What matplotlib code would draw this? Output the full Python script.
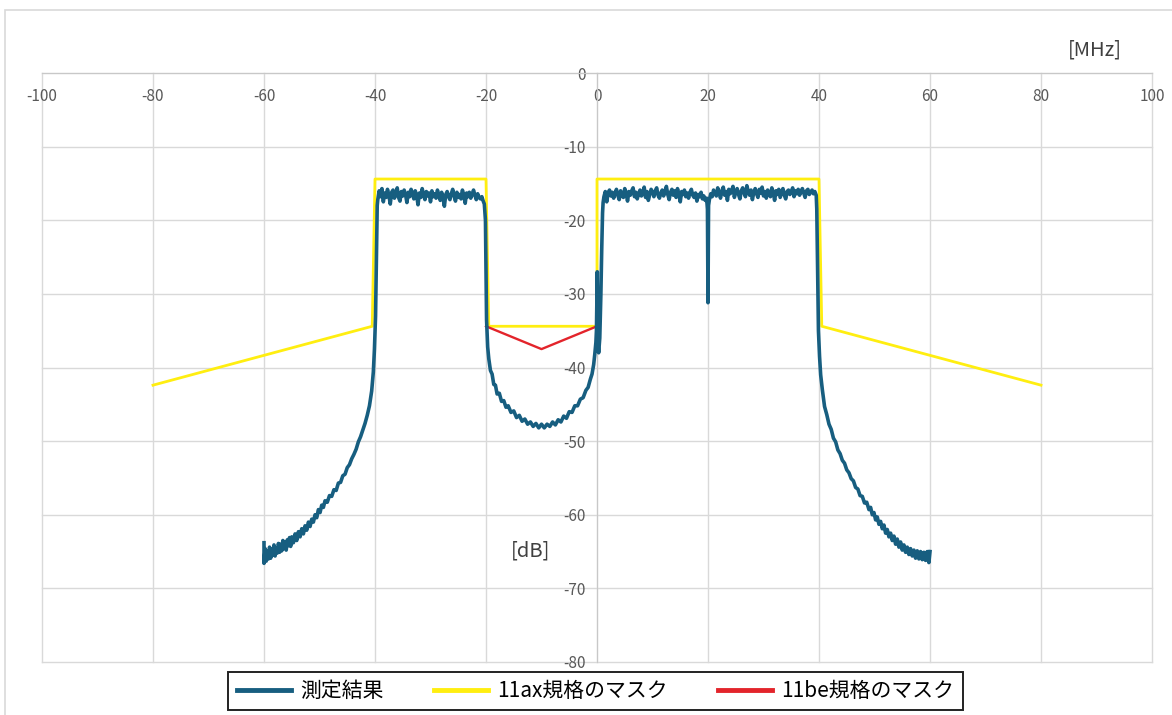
import matplotlib
matplotlib.use('Agg')
import matplotlib.pyplot as plt
from matplotlib.patches import Rectangle
import numpy as np

plt.rcParams['font.family'] = ['Noto Sans CJK JP', 'DejaVu Sans']
plt.rcParams['axes.unicode_minus'] = False

# ---- data (MHz, dB) ----
x_ticks = [-100, -80, -60, -40, -20, 0, 20, 40, 60, 80, 100]
y_ticks = [0, -10, -20, -30, -40, -50, -60, -70, -80]

labels = ['測定結果', '11ax規格のマスク', '11be規格のマスク']

# 11ax mask
ax_mask_f = [-80, -40.5, -40, -20, -19.5, 0, 0, 40, 40.5, 80]
ax_mask_db = [-42.4, -34.4, -14.4, -14.4, -34.4, -34.4, -14.4, -14.4, -34.4, -42.4]

# 11be mask (punctured part)
be_mask_f = [-20, -10, 0]
be_mask_db = [-34.4, -37.5, -34.4]

# measured: lower skirt of left channel (freq, level)
skirt_l = [(-60.0, -63.8), (-60.0, -66.6), (-59.8, -64.6), (-59.6, -66.3), (-59.4, -64.9),
           (-59.2, -66.0), (-59.0, -64.4), (-58.8, -65.9), (-58.6, -64.7), (-58.4, -65.5),
           (-58.2, -64.1), (-58.0, -65.6), (-57.8, -64.5), (-57.6, -65.2), (-57.4, -63.9),
           (-57.2, -65.1), (-57.0, -64.0), (-56.8, -64.9), (-56.6, -63.5), (-56.4, -64.6),
           (-56.2, -63.7), (-56.0, -64.8), (-55.8, -63.4), (-55.6, -64.2), (-55.4, -63.1),
           (-55.2, -64.3), (-55.0, -63.0), (-54.7, -63.8), (-54.4, -62.6), (-54.1, -63.5),
           (-53.8, -62.3), (-53.5, -63.0), (-53.2, -61.9), (-52.9, -62.6), (-52.6, -61.5),
           (-52.3, -62.1), (-52.0, -61.0), (-51.7, -61.6), (-51.4, -60.6), (-51.1, -61.0),
           (-50.8, -60.0), (-50.5, -60.4), (-50.2, -59.3), (-49.9, -59.7), (-49.6, -58.7),
           (-49.3, -59.0), (-49.0, -58.1), (-48.6, -58.3), (-48.2, -57.4), (-47.8, -57.5),
           (-47.4, -56.6), (-47.0, -56.7), (-46.6, -55.7), (-46.2, -55.6), (-45.8, -54.7),
           (-45.4, -54.5), (-45.0, -53.6), (-44.6, -53.2), (-44.2, -52.4), (-43.8, -51.8),
           (-43.4, -51.1), (-43.0, -50.1), (-42.6, -49.4), (-42.2, -48.5), (-41.8, -47.6),
           (-41.4, -46.5), (-41.0, -45.2), (-40.6, -43.2), (-40.3, -40.6), (-40.1, -37.5),
           (-39.9, -33.0), (-39.8, -28.0), (-39.7, -22.0), (-39.6, -18.0)]

# left channel in-band, -39.5 .. -20.5 MHz every 0.25 MHz
band_l_db = [-17.2, -16.0, -16.8, -15.7, -17.5, -16.3, -16.9, -15.8, -16.6, -17.8,
             -16.2, -15.9, -17.0, -16.4, -15.6, -16.9, -17.4, -16.1, -16.7, -15.9,
             -16.5, -17.6, -16.2, -16.8, -15.8, -16.4, -17.1, -16.0, -16.6, -17.9,
             -16.3, -16.9, -15.7, -16.5, -17.2, -16.1, -16.7, -16.3, -17.5, -16.0,
             -16.8, -16.4, -17.0, -15.9, -16.6, -17.3, -16.2, -16.9, -18.1, -16.5,
             -16.1, -16.8, -17.2, -16.4, -15.8, -16.7, -17.4, -16.2, -16.9, -16.5,
             -17.1, -15.9, -16.6, -17.7, -16.3, -16.8, -16.2, -17.0, -16.5, -15.9,
             -16.6, -17.2, -16.4, -16.9, -17.1, -16.8, -17.4]

# punctured 20 MHz between the channels (freq, level)
gap = [(-20.3, -17.8), (-20.1, -20.0), (-20.0, -27.0), (-19.9, -33.5), (-19.7, -37.2),
       (-19.5, -38.8), (-19.2, -40.4), (-18.9, -40.9), (-18.6, -42.3), (-18.3, -42.4),
       (-18.0, -43.6), (-17.6, -43.5), (-17.2, -44.6), (-16.8, -44.5), (-16.4, -45.4),
       (-16.0, -45.2), (-15.5, -46.1), (-15.0, -45.9), (-14.5, -46.8), (-14.0, -46.5),
       (-13.5, -47.3), (-13.0, -47.0), (-12.5, -47.7), (-12.0, -47.4), (-11.5, -48.0),
       (-11.0, -47.6), (-10.5, -48.2), (-10.0, -47.7), (-9.5, -48.2), (-9.0, -47.7),
       (-8.5, -48.0), (-8.0, -47.4), (-7.5, -47.8), (-7.0, -47.1), (-6.5, -47.4),
       (-6.0, -46.6), (-5.5, -46.9), (-5.0, -46.0), (-4.5, -46.1), (-4.0, -45.2),
       (-3.5, -45.2), (-3.0, -44.3), (-2.5, -44.1), (-2.0, -43.1), (-1.6, -42.7),
       (-1.2, -41.6), (-0.9, -40.9), (-0.6, -39.6), (-0.4, -38.2), (-0.2, -36.6),
       (-0.1, -35.0), (0.05, -27.0), (0.15, -36.5), (0.3, -38.0), (0.5, -36.0),
       (0.7, -30.0), (0.85, -24.0), (1.0, -19.0), (1.1, -17.6)]

# right channel in-band, 1.25 .. 19.75 MHz every 0.25 MHz
band_r1_db = [-16.8, -16.1, -17.5, -16.3, -15.9, -16.7, -16.2, -17.0, -16.4, -15.8,
              -16.6, -17.2, -16.0, -16.5, -16.9, -15.7, -16.3, -17.4, -16.1, -16.6,
              -16.0, -15.6, -16.8, -16.2, -17.1, -16.4, -15.9, -16.7, -16.3, -15.5,
              -16.9, -16.1, -17.3, -16.5, -15.8, -16.2, -16.8, -16.0, -15.6, -16.6,
              -17.0, -16.3, -15.9, -16.7, -16.1, -15.4, -16.5, -17.2, -16.2, -15.8,
              -16.6, -16.0, -16.9, -15.7, -16.4, -17.5, -16.1, -16.5, -15.9, -16.8,
              -16.3, -17.0, -16.2, -15.8, -16.6, -16.9, -16.3, -17.4, -16.5, -16.8,
              -16.2, -17.1, -16.7, -17.3, -17.0]

# notch at 20 MHz
notch = [(19.9, -18.5), (20.0, -31.2), (20.1, -18.0)]

# right channel in-band, 20.25 .. 39.5 MHz every 0.25 MHz
band_r2_db = [-17.2, -16.4, -16.8, -15.9, -16.3, -16.7, -15.6, -16.2, -17.0, -16.0,
              -15.5, -16.6, -16.1, -17.3, -15.8, -16.4, -16.0, -15.4, -16.9, -16.2,
              -15.7, -16.5, -17.1, -16.0, -15.6, -16.3, -16.8, -15.3, -16.1, -16.6,
              -15.9, -17.2, -16.2, -15.7, -16.4, -16.9, -15.8, -16.3, -15.5, -16.7,
              -16.1, -17.0, -15.9, -16.4, -16.8, -15.6, -16.2, -17.3, -16.0, -16.5,
              -15.8, -16.9, -16.3, -15.7, -16.6, -17.1, -16.1, -15.9, -16.5, -16.2,
              -15.6, -16.8, -16.0, -16.4, -15.8, -16.6, -16.1, -15.7, -16.3, -16.9,
              -16.0, -15.8, -16.5, -16.2, -15.9, -16.4, -16.1, -16.6]

# lower skirt of right channel (freq, level)
skirt_r = [(39.6, -18.5), (39.7, -24.0), (39.8, -30.0), (39.9, -35.0), (40.1, -38.5),
           (40.3, -41.0), (40.6, -43.0), (41.0, -45.3), (41.4, -46.4), (41.8, -47.7),
           (42.2, -48.4), (42.6, -49.6), (43.0, -50.1), (43.4, -51.2), (43.8, -51.7),
           (44.2, -52.6), (44.6, -53.0), (45.0, -53.9), (45.4, -54.3), (45.8, -55.1),
           (46.2, -55.4), (46.6, -56.3), (47.0, -56.5), (47.4, -57.4), (47.8, -57.5),
           (48.2, -58.4), (48.6, -58.3), (49.0, -59.3), (49.3, -59.0), (49.6, -60.0),
           (49.9, -59.7), (50.2, -60.7), (50.5, -60.3), (50.8, -61.3), (51.1, -60.9),
           (51.4, -61.9), (51.7, -61.4), (52.0, -62.5), (52.3, -62.0), (52.6, -63.0),
           (52.9, -62.5), (53.2, -63.5), (53.5, -62.9), (53.8, -64.0), (54.1, -63.3),
           (54.4, -64.4), (54.7, -63.7), (55.0, -64.8), (55.3, -64.1), (55.6, -65.1),
           (55.9, -64.4), (56.2, -65.4), (56.5, -64.6), (56.8, -65.6), (57.1, -64.8),
           (57.4, -65.9), (57.7, -64.9), (58.0, -66.0), (58.3, -65.0), (58.6, -66.1),
           (58.9, -65.1), (59.2, -66.2), (59.5, -65.0), (59.8, -66.5), (60.0, -65.0)]


def unzip(pairs):
    return [p[0] for p in pairs], [p[1] for p in pairs]


def main():
    band_l_f = np.arange(len(band_l_db)) * 0.25 - 39.5
    band_r1_f = np.arange(len(band_r1_db)) * 0.25 + 1.25
    band_r2_f = np.arange(len(band_r2_db)) * 0.25 + 20.25

    sl_f, sl_db = unzip(skirt_l)
    g_f, g_db = unzip(gap)
    n_f, n_db = unzip(notch)
    sr_f, sr_db = unzip(skirt_r)

    meas_f = np.concatenate([sl_f, band_l_f, g_f, band_r1_f, n_f, band_r2_f, sr_f])
    meas_db = np.concatenate([sl_db, band_l_db, g_db, band_r1_db, n_db, band_r2_db, sr_db])

    fig = plt.figure(figsize=(11.72, 7.15), dpi=100)
    W, H = 1172, 715
    ax = fig.add_axes([42 / W, 1 - 662 / H, 1110 / W, 589 / H])

    # outer chart frame
    fig.add_artist(Rectangle((5 / W, -0.1), 1.2, 1.1 - 10 / H, transform=fig.transFigure,
                             fill=False, edgecolor='#D9D9D9', lw=1.2))

    l1, = ax.plot(meas_f, meas_db, color='#175E80', lw=2.6, zorder=4, label=labels[0])
    l2, = ax.plot(ax_mask_f, ax_mask_db, color='#FFEE10', lw=2.0, zorder=3, label=labels[1])
    l3, = ax.plot(be_mask_f, be_mask_db, color='#E3242B', lw=1.7, zorder=3.5, label=labels[2])

    ax.set_xlim(-100, 100)
    ax.set_ylim(-80, 0)
    ax.set_xticks(x_ticks)
    ax.set_yticks(y_ticks)
    ax.set_xticklabels([str(v) for v in x_ticks])
    ax.set_yticklabels([str(v) for v in y_ticks])

    for s in ['top', 'right']:
        ax.spines[s].set_visible(False)
    ax.spines['bottom'].set_position(('data', 0))
    ax.spines['left'].set_position(('data', 0))
    ax.spines['bottom'].set_color('#C8C8C8')
    ax.spines['left'].set_color('#C8C8C8')
    ax.spines['bottom'].set_zorder(1)
    ax.spines['left'].set_zorder(1)

    ax.tick_params(axis='x', length=0, pad=11, labelsize=11, labelcolor='#595959')
    ax.tick_params(axis='y', length=0, pad=8, labelsize=11, labelcolor='#595959')

    ax.grid(True, color='#D9D9D9', lw=1.0, zorder=0)
    ax.set_axisbelow(True)
    for g in ax.get_xgridlines() + ax.get_ygridlines():
        g.set_clip_on(False)

    fig.text(1095 / W, 1 - 50 / H, '[MHz]', ha='center', va='center', fontsize=14.5, color='#404040')
    ax.text(-12, -64.9, '[dB]', ha='center', va='center', fontsize=14.5, color='#404040')

    leg = fig.legend(handles=[l1, l2, l3], loc='center', bbox_to_anchor=(595.5 / W, 1 - 691 / H),
                     ncol=3, fontsize=15, frameon=True, fancybox=False, framealpha=1,
                     edgecolor='#222222', handlelength=2.6, handletextpad=0.45,
                     columnspacing=2.4, borderpad=0.4)
    leg.get_frame().set_linewidth(1.4)
    for h in leg.get_lines():
        h.set_linewidth(3.5)

    fig.savefig('out.png', dpi=100, facecolor='white')


if __name__ == '__main__':
    main()
